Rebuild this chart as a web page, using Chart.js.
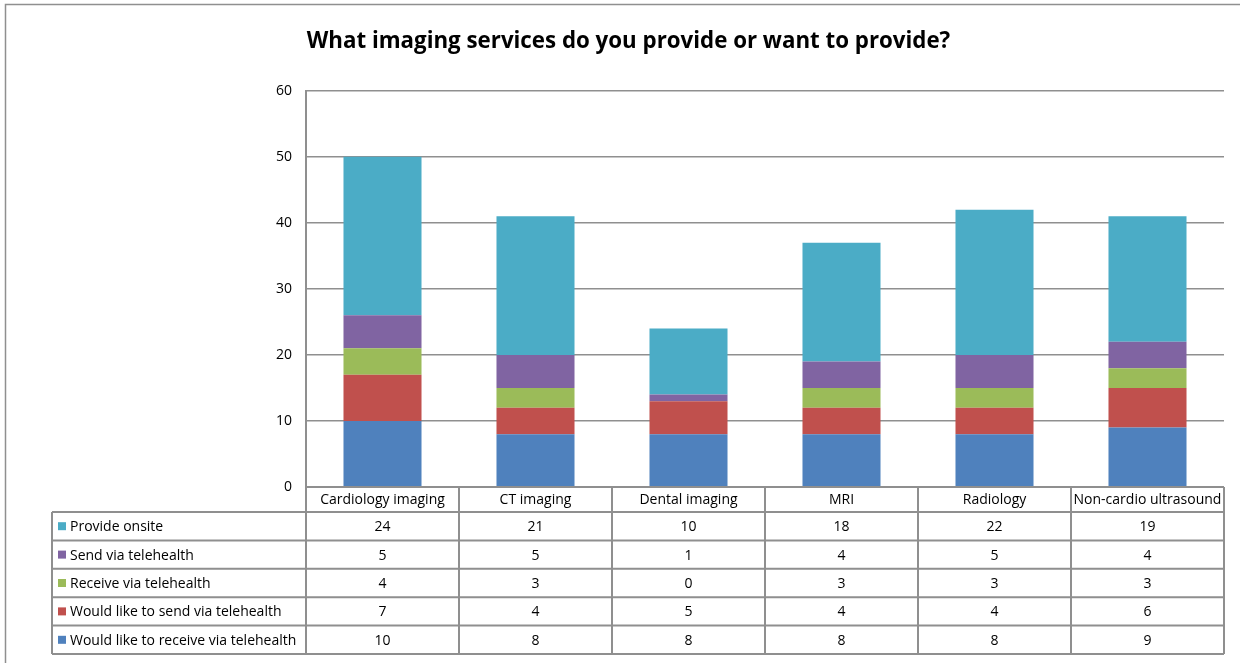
<!DOCTYPE html>
<html>
<head>
<meta charset="utf-8">
<script src="https://cdn.jsdelivr.net/npm/chart.js@4.4.0/dist/chart.umd.min.js"></script>
<style>
body { margin: 0; background: #fff; }
canvas { display: block; }
</style>
</head>
<body>
<canvas id="canvas" width="1240" height="663"></canvas>
<script>
var categories = ['Cardiology imaging', 'CT imaging', 'Dental imaging', 'MRI', 'Radiology', 'Non-cardio ultrasound'];
var likeReceive = [10, 8, 8, 8, 8, 9];
var likeSend = [7, 4, 5, 4, 4, 6];
var receiveTele = [4, 3, 0, 3, 3, 3];
var sendTele = [5, 5, 1, 4, 5, 4];
var onsite = [24, 21, 10, 18, 22, 19];
var seriesNames = ['Would like to receive via telehealth', 'Would like to send via telehealth', 'Receive via telehealth', 'Send via telehealth', 'Provide onsite'];
var seriesColors = ['#4F81BD', '#C0504D', '#9BBB59', '#8064A2', '#4BACC6'];

var FONT = '"Open Sans", Lato, sans-serif';
var LINE = '#8f8f8f';

// outer frame like the Excel chart border
var framePlugin = {
    id: 'frame',
    beforeDraw: function (chart) {
        var ctx = chart.ctx;
        ctx.save();
        ctx.fillStyle = '#fff';
        ctx.fillRect(0, 0, chart.width, chart.height);
        ctx.strokeStyle = LINE;
        ctx.lineWidth = 1.5;
        ctx.strokeRect(5.5, 4.5, chart.width + 20, chart.height + 20);
        ctx.restore();
    }
};

// data table under the plot
var tablePlugin = {
    id: 'dataTable',
    afterDraw: function (chart) {
        var ctx = chart.ctx;
        var area = chart.chartArea;
        var xs = chart.scales.x;
        var n = categories.length;
        var colW = (area.right - area.left) / n;
        var top = area.bottom;
        var headH = 25;
        var rowH = 28.4;
        var leftX = 52;
        var sets = chart.data.datasets.slice().reverse();
        var bodyTop = top + headH;
        var bottom = bodyTop + rowH * sets.length;

        ctx.save();
        ctx.strokeStyle = LINE;
        ctx.lineWidth = 2;
        ctx.beginPath();
        // horizontal lines
        ctx.moveTo(area.left, top); ctx.lineTo(area.right, top);
        for (var r = 0; r <= sets.length; r++) {
            var yy = bodyTop + r * rowH;
            ctx.moveTo(leftX, yy); ctx.lineTo(area.right, yy);
        }
        // vertical lines
        ctx.moveTo(leftX, bodyTop); ctx.lineTo(leftX, bottom);
        for (var c = 0; c <= n; c++) {
            var xx = area.left + c * colW;
            ctx.moveTo(xx, top); ctx.lineTo(xx, bottom);
        }
        ctx.stroke();

        ctx.fillStyle = '#000';
        ctx.font = '14px ' + FONT;
        ctx.textBaseline = 'middle';
        ctx.textAlign = 'center';
        for (var i = 0; i < n; i++) {
            var cx = xs.getPixelForValue(i);
            ctx.fillText(categories[i], cx, top + headH / 2 + 1);
            for (var k = 0; k < sets.length; k++) {
                ctx.fillText(String(sets[k].data[i]), cx, bodyTop + k * rowH + rowH / 2 + 1);
            }
        }
        ctx.textAlign = 'left';
        for (var k = 0; k < sets.length; k++) {
            var cy = bodyTop + k * rowH + rowH / 2;
            ctx.fillStyle = sets[k].backgroundColor;
            ctx.fillRect(58, cy - 4, 8, 8);
            ctx.fillStyle = '#000';
            ctx.fillText(sets[k].label, 70, cy + 1);
        }
        ctx.restore();
    }
};

var datasets = [likeReceive, likeSend, receiveTele, sendTele, onsite].map(function (d, i) {
    return {
        label: seriesNames[i],
        data: d,
        backgroundColor: seriesColors[i],
        borderWidth: 0,
        barPercentage: 0.51,
        categoryPercentage: 1
    };
});

new Chart('canvas', {
    type: 'bar',
    data: { labels: categories, datasets: datasets },
    options: {
        responsive: false,
        animation: false,
        layout: { padding: { left: 33, right: 16, top: 0, bottom: 176 } },
        plugins: {
            legend: { display: false },
            tooltip: { enabled: false },
            title: {
                display: true,
                text: 'What imaging services do you provide or want to provide?',
                color: '#000',
                font: { family: FONT, size: 22.3, weight: 'bold' },
                padding: { top: 28, bottom: 36 }
            }
        },
        scales: {
            x: {
                stacked: true,
                display: false
            },
            y: {
                stacked: true,
                min: 0,
                max: 60,
                afterFit: function (scale) { scale.width = 273; },
                ticks: { stepSize: 10, padding: 14, color: '#000', font: { family: FONT, size: 14 } },
                grid: { color: LINE, lineWidth: 1.5, drawTicks: false },
                border: { color: LINE, width: 2 }
            }
        }
    },
    plugins: [framePlugin, tablePlugin]
});
</script>
</body>
</html>
